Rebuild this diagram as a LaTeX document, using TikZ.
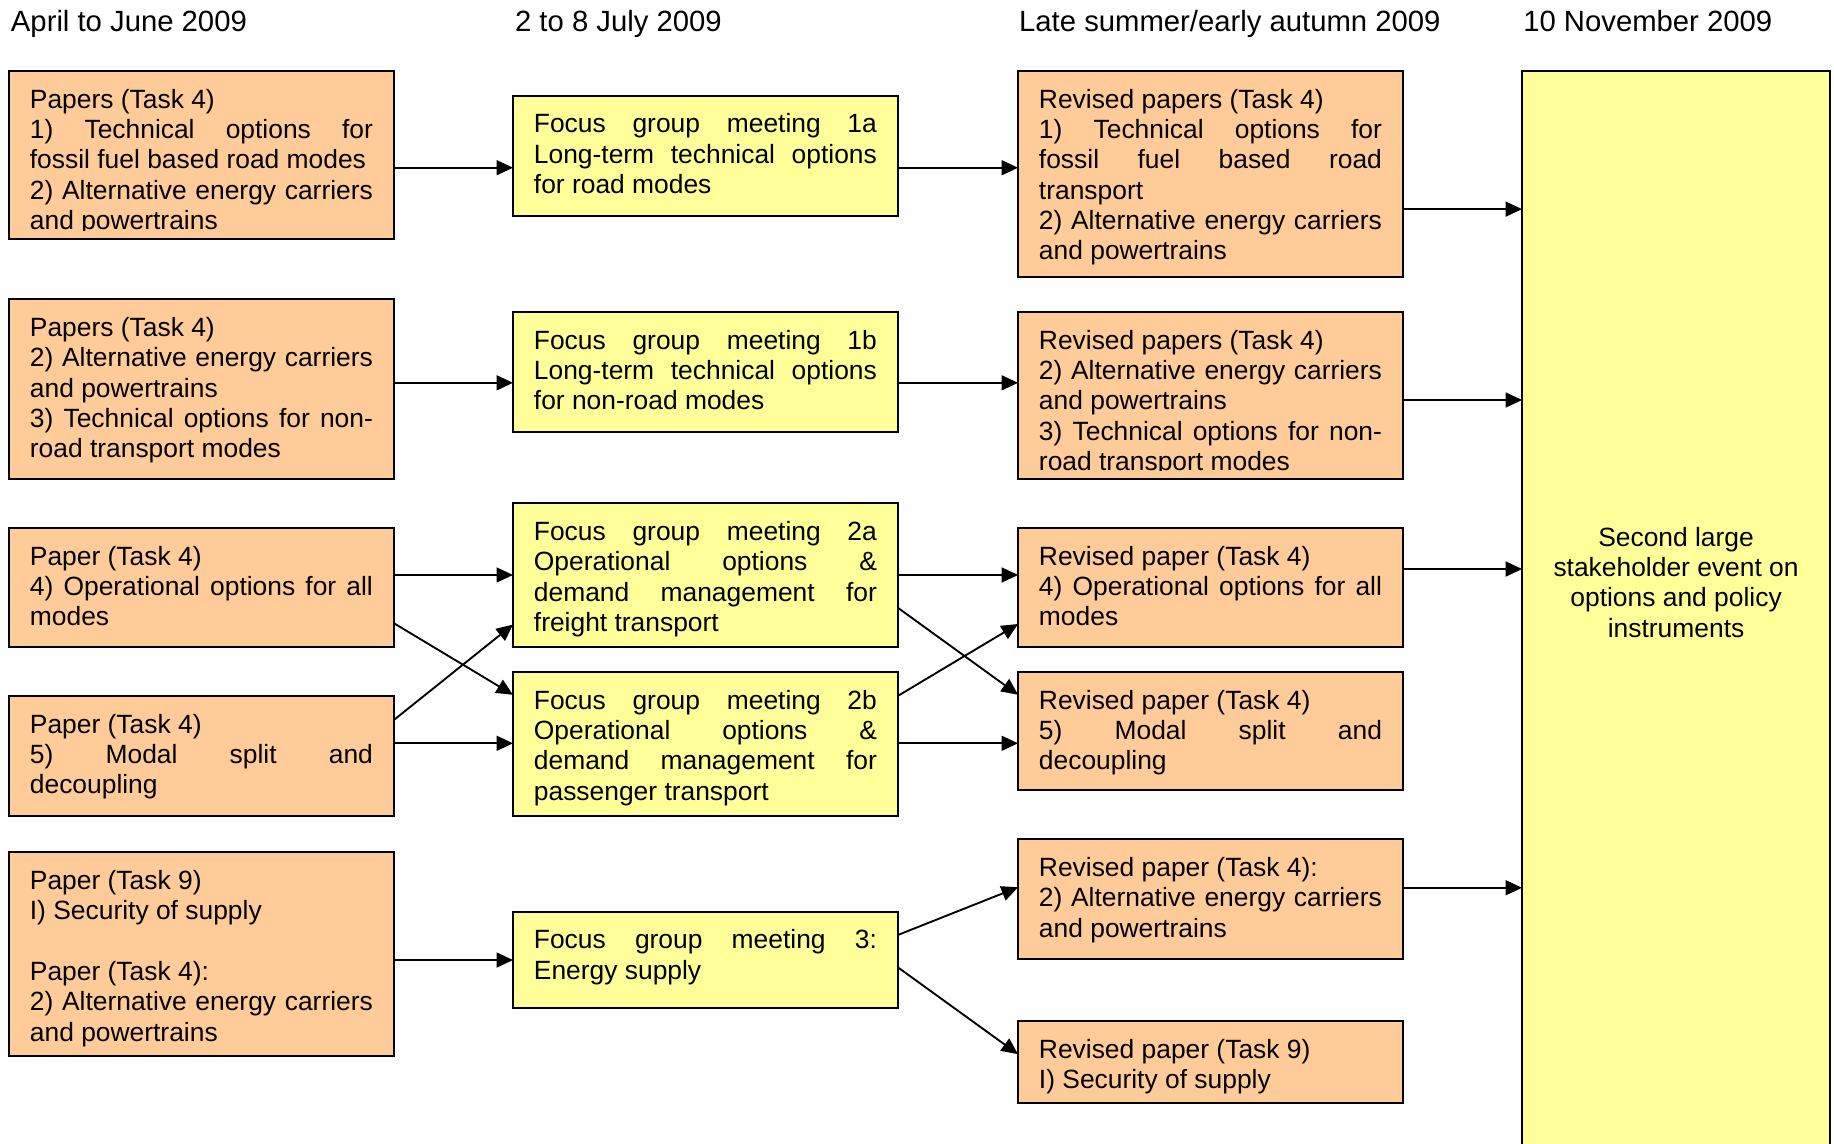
\documentclass[tikz,border=0pt]{standalone}
\usepackage{fontspec}
\setmainfont{Liberation Sans}
\usetikzlibrary{arrows.meta}

\definecolor{paperbg}{RGB}{255,204,153}
\definecolor{meetbg}{RGB}{255,255,153}

\newlength\pxu \setlength\pxu{0.5316pt}
\newcommand\boxfont{\fontsize{12pt}{13.8pt}\selectfont}
\newcommand\headfont{\fontsize{13.3pt}{15.3pt}\selectfont}
\newcommand\boxtxt[2]{\parbox[t][#1\pxu][t]{155.9pt}{\hbadness=10000\rule{0pt}{16.9pt}#2}}

\tikzset{>={Triangle[length=7.5pt,width=6.8pt]}}
\tikzset{
  box/.style={draw, line width=0.85pt, anchor=north west, inner xsep=9.5pt,
    inner ysep=0pt, outer sep=0pt, font=\boxfont},
  paper/.style={box, fill=paperbg},
  meeting/.style={box, fill=meetbg},
  head/.style={anchor=base west, inner sep=0pt, font=\headfont},
  link/.style={->, line width=0.85pt},
}

\begin{document}
\begin{tikzpicture}[x=0.5316pt, y=-0.5316pt]
    \useasboundingbox (0,0) rectangle (1568,978);
    \clip (0,0) rectangle (1568,978);

    \node[head] (when1) at (9,27) {April to June 2009};
    \node[head] (when2) at (440,27) {2 to 8 July 2009};
    \node[head] (when3) at (871,27) {Late summer/early autumn 2009};
    \node[head] (when4) at (1302,27) {10 November 2009};

    % papers
    \node[paper] (a1) at (7.7,60.6) {\boxtxt{143.9}{Papers (Task 4)\\
      1) Technical options for\linebreak fossil fuel based road modes\\
      2) Alternative energy carriers\linebreak and powertrains}};
    \node[paper] (a2) at (7.7,255.8) {\boxtxt{154}{Papers (Task 4)\\
      2) Alternative energy carriers\linebreak and powertrains\\
      3) Technical options for non-\linebreak road transport modes}};
    \node[paper] (a3) at (7.7,451.4) {\boxtxt{101.8}{Paper (Task 4)\\
      4) Operational options for all\linebreak modes}};
    \node[paper] (a4) at (7.7,595) {\boxtxt{102.7}{Paper (Task 4)\\
      5) Modal split and\linebreak decoupling}};
    \node[paper] (a5) at (7.7,728.6) {\boxtxt{174.3}{Paper (Task 9)\\
      I) Security of supply\\[13.8pt]
      Paper (Task 4):\\
      2) Alternative energy carriers\linebreak and powertrains}};

    % focus groups
    \node[meeting] (b1) at (438.6,81.8) {\boxtxt{102.6}{Focus group meeting 1a\linebreak
      Long-term technical options\linebreak for road modes}};
    \node[meeting] (b2) at (438.6,266.8) {\boxtxt{102.4}{Focus group meeting 1b\linebreak
      Long-term technical options\linebreak for non-road modes}};
    \node[meeting] (b3) at (438.6,430.3) {\boxtxt{123.2}{Focus group meeting 2a\linebreak
      Operational options \&\linebreak demand management for\linebreak freight transport}};
    \node[meeting] (b4) at (438.6,574.6) {\boxtxt{123.1}{Focus group meeting 2b\linebreak
      Operational options \&\linebreak demand management for\linebreak passenger transport}};
    \node[meeting] (b5) at (438.6,779.5) {\boxtxt{82.5}{Focus group meeting 3:\linebreak
      Energy supply}};

    % revised papers
    \node[paper] (c1) at (870.4,60.7) {\boxtxt{175.8}{Revised papers (Task 4)\\
      1) Technical options for\linebreak fossil fuel based road\linebreak transport\\
      2) Alternative energy carriers\linebreak and powertrains}};
    \node[paper] (c2) at (870.4,266.8) {\boxtxt{142.9}{Revised papers (Task 4)\\
      2) Alternative energy carriers\linebreak and powertrains\\
      3) Technical options for non-\linebreak road transport modes}};
    \node[paper] (c3) at (870.4,451.4) {\boxtxt{101.8}{Revised paper (Task 4)\\
      4) Operational options for all\linebreak modes}};
    \node[paper] (c4) at (870.4,574.6) {\boxtxt{100.9}{Revised paper (Task 4)\\
      5) Modal split and\linebreak decoupling}};
    \node[paper] (c5) at (870.4,717.6) {\boxtxt{102.4}{Revised paper (Task 4):\\
      2) Alternative energy carriers\linebreak and powertrains}};
    \node[paper] (c6) at (870.4,873) {\boxtxt{70}{Revised paper (Task 9)\\
      I) Security of supply}};

    \node[meeting] (event) at (1301.3,60.7) {\parbox[t][940\pxu][t]{121pt}{\centering
      \rule{0pt}{216pt}Second large\\ stakeholder event on\\ options and policy\\ instruments}};

    % text cut off at the lower edge
    \fill[paperbg] ([shift={(0.45pt,0.45pt)}]a1.south west) rectangle ([shift={(-0.45pt,3.7pt)}]a1.south east);
    \fill[paperbg] ([shift={(0.45pt,0.45pt)}]c2.south west) rectangle ([shift={(-0.45pt,3.7pt)}]c2.south east);

    \draw[link] (a1.east |- 0,143.4) -- (b1.west |- 0,143.4);
    \draw[link] (b1.east |- 0,143.4) -- (c1.west |- 0,143.4);
    \draw[link] (c1.east |- 0,178.8) -- (event.west |- 0,178.8);
    \draw[link] (a2.east |- 0,327.3) -- (b2.west |- 0,327.3);
    \draw[link] (b2.east |- 0,327.3) -- (c2.west |- 0,327.3);
    \draw[link] (c2.east |- 0,342) -- (event.west |- 0,342);
    \draw[link] (a3.east |- 0,491.6) -- (b3.west |- 0,491.6);
    \draw[link] (a3.east |- 0,532.8) -- (b4.west |- 0,594);
    \draw[link] (a4.east |- 0,615.6) -- (b3.west |- 0,534);
    \draw[link] (a4.east |- 0,635.5) -- (b4.west |- 0,635.5);
    \draw[link] (b3.east |- 0,491.6) -- (c3.west |- 0,491.6);
    \draw[link] (b3.east |- 0,519.6) -- (c4.west |- 0,594);
    \draw[link] (b4.east |- 0,595) -- (c3.west |- 0,533.5);
    \draw[link] (b4.east |- 0,635.5) -- (c4.west |- 0,635.5);
    \draw[link] (c3.east |- 0,486.5) -- (event.west |- 0,486.5);
    \draw[link] (a5.east |- 0,820.8) -- (b5.west |- 0,820.8);
    \draw[link] (b5.east |- 0,799.4) -- (c5.west |- 0,758.6);
    \draw[link] (b5.east |- 0,827) -- (c6.west |- 0,901.3);
    \draw[link] (c5.east |- 0,759) -- (event.west |- 0,759);
\end{tikzpicture}
\end{document}
